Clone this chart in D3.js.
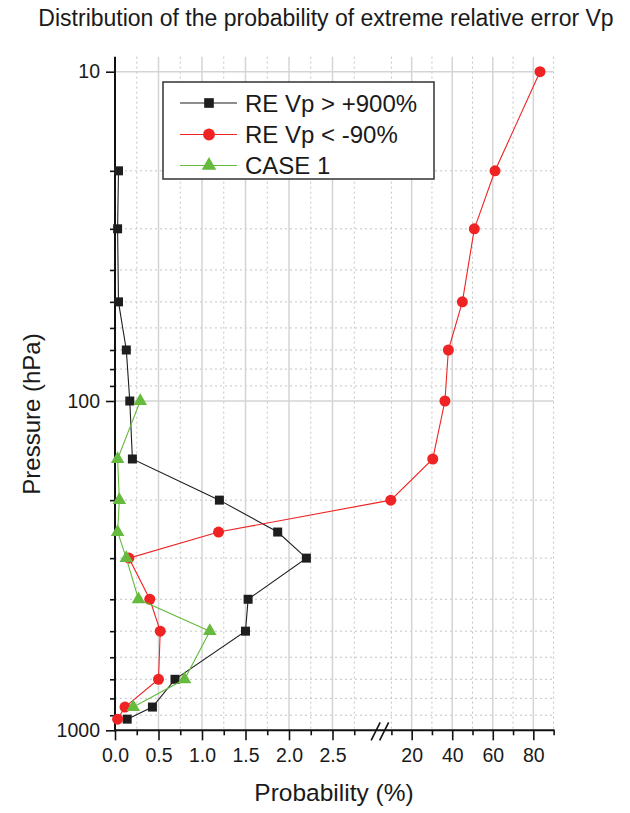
<!DOCTYPE html>
<html><head><meta charset="utf-8">
<script src="https://cdn.jsdelivr.net/npm/d3@7"></script>
<style>body{margin:0;background:#fff} svg{display:block;font-family:"Liberation Sans",Arial,sans-serif}</style>
</head><body><svg id="c" width="630" height="813"></svg>
<script>
const titleText = "Distribution of the probability of extreme relative error Vp";
const xLabel = "Probability (%)";
const yLabel = "Pressure (hPa)";
const seriesNames = ["RE Vp > +900%", "RE Vp < -90%", "CASE 1"];
const blackP = [20, 30, 50, 70, 100, 150, 200, 250, 300, 400, 500, 700, 850, 925];
const blackV = [0.04, 0.03, 0.04, 0.13, 0.17, 0.20, 1.20, 1.87, 2.20, 1.53, 1.50, 0.69, 0.43, 0.14];
const redP = [10, 20, 30, 50, 70, 100, 150, 200, 250, 300, 400, 500, 700, 850, 925];
const redV = [83.3, 61.1, 50.9, 45.0, 38.1, 36.4, 30.4, 9.7, 1.19, 0.16, 0.40, 0.52, 0.50, 0.115, 0.03];
const greenP = [100, 150, 200, 250, 300, 400, 500, 700, 850];
const greenV = [0.29, 0.03, 0.05, 0.03, 0.13, 0.27, 1.09, 0.80, 0.21];
const xLeftTicks = [0, 0.5, 1, 1.5, 2, 2.5];
const xLeftTickLabels = ["0.0", "0.5", "1.0", "1.5", "2.0", "2.5"];
const xLeftMinor = [0.25, 0.75, 1.25, 1.75, 2.25, 2.75];
const xRightTicks = [20, 40, 60, 80];
const xRightMinor = [10, 30, 50, 70, 90];
const yTicks = [10, 100, 1000];
const yMinor = [20, 30, 40, 50, 60, 70, 80, 90, 200, 300, 400, 500, 600, 700, 800, 900];

const svg = d3.select("#c");
const xL = d3.scaleLinear().domain([0, 3]).range([115, 376]);
const xR = d3.scaleLinear().domain([10, 90]).range([391.4, 553.6]);
const x = v => v <= 3 ? xL(v) : xR(v);
const y = d3.scaleLog().domain([10, 1000]).range([71.7, 730.3]);
const xMin = xL(0), xMax = xR(90), yTop = y(9), yBot = y(1000);

// grid
const g = svg.append("g");
const majorV = xLeftTicks.filter(d => d > 0).map(xL).concat(xRightTicks.map(xR));
const minorV = xLeftMinor.map(xL).concat(xRightMinor.map(xR));
g.selectAll(".gvm").data(minorV).join("line")
  .attr("x1", d => d).attr("x2", d => d).attr("y1", yTop).attr("y2", yBot)
  .attr("stroke", "#c4c4c4").attr("stroke-width", 1).attr("stroke-dasharray", "2,3");
g.selectAll(".ghm").data(yMinor).join("line")
  .attr("x1", xMin).attr("x2", xMax).attr("y1", d => y(d)).attr("y2", d => y(d))
  .attr("stroke", "#c4c4c4").attr("stroke-width", 1).attr("stroke-dasharray", "2,3");
g.selectAll(".gvM").data(majorV).join("line")
  .attr("x1", d => d).attr("x2", d => d).attr("y1", yTop).attr("y2", yBot)
  .attr("stroke", "#d4d4d4").attr("stroke-width", 1.5);
g.selectAll(".ghM").data([10, 100]).join("line")
  .attr("x1", xMin).attr("x2", xMax).attr("y1", d => y(d)).attr("y2", d => y(d))
  .attr("stroke", "#d4d4d4").attr("stroke-width", 1.5);

// axes
const ax = svg.append("g");
function styleAxis(sel) {
  sel.select(".domain").remove();
  sel.selectAll(".tick line").attr("stroke", "#111").attr("stroke-width", 1.6);
  sel.selectAll(".tick text").attr("fill", "#1a1a1a").style("font-size", "19.5px")
     .style("font-family", '"Liberation Sans", Arial, sans-serif');
}
ax.append("g").attr("transform", `translate(0,${yBot})`)
  .call(d3.axisBottom(xL).tickValues(xLeftTicks).tickFormat((d, i) => xLeftTickLabels[i]).tickSize(10).tickPadding(8))
  .call(styleAxis);
ax.append("g").attr("transform", `translate(0,${yBot})`)
  .call(d3.axisBottom(xL).tickValues(xLeftMinor).tickFormat("").tickSize(5))
  .call(styleAxis);
ax.append("g").attr("transform", `translate(0,${yBot})`)
  .call(d3.axisBottom(xR).tickValues(xRightTicks).tickFormat(d3.format("d")).tickSize(10).tickPadding(8))
  .call(styleAxis);
ax.append("g").attr("transform", `translate(0,${yBot})`)
  .call(d3.axisBottom(xR).tickValues(xRightMinor).tickFormat("").tickSize(5))
  .call(styleAxis);
ax.append("g").attr("transform", `translate(${xMin},0)`)
  .call(d3.axisLeft(y).tickValues(yTicks).tickFormat(d3.format("d")).tickSize(9).tickPadding(6))
  .call(styleAxis);
ax.append("g").attr("transform", `translate(${xMin},0)`)
  .call(d3.axisLeft(y).tickValues(yMinor).tickFormat("").tickSize(5))
  .call(styleAxis);
ax.append("line").attr("x1", xMin - 1).attr("x2", xMax + 1).attr("y1", yBot).attr("y2", yBot)
  .attr("stroke", "#111").attr("stroke-width", 2);
ax.append("line").attr("x1", xMin).attr("x2", xMin).attr("y1", yTop).attr("y2", yBot + 1)
  .attr("stroke", "#111").attr("stroke-width", 2);
// break marks
const bx = (xL(3) + xR(5)) / 2 + 2;
[-4.5, 4].forEach(o => {
  ax.append("line").attr("x1", bx + o - 5).attr("y1", yBot + 10).attr("x2", bx + o + 4).attr("y2", yBot - 8)
    .attr("stroke", "#111").attr("stroke-width", 1.6);
});

// data
const series = [
  {name: seriesNames[0], P: blackP, V: blackV, color: "#1e1e1e", marker: d3.symbolSquare, size: 81},
  {name: seriesNames[1], P: redP, V: redV, color: "#ef2323", marker: d3.symbolCircle, size: 95},
  {name: seriesNames[2], P: greenP, V: greenV, color: "#66bb3f", marker: d3.symbolTriangle, size: 80}
];
const lineGen = d3.line().x(d => x(d.v)).y(d => y(d.p));
const dg = svg.append("g");
series.forEach(s => {
  const pts = s.P.map((p, i) => ({p, v: s.V[i]}));
  dg.append("path").datum(pts).attr("d", lineGen).attr("fill", "none")
    .attr("stroke", s.color).attr("stroke-width", 1.1);
  dg.selectAll(null).data(pts).join("path")
    .attr("transform", d => `translate(${x(d.v)},${y(d.p)})`)
    .attr("d", d3.symbol(s.marker, s.size)).attr("fill", s.color);
});

// legend
const lg = svg.append("g");
lg.append("rect").attr("x", 163).attr("y", 82).attr("width", 271).attr("height", 97)
  .attr("fill", "#fff").attr("stroke", "#333").attr("stroke-width", 1.5);
const rowY = [103, 134.5, 165.5];
series.forEach((s, i) => {
  lg.append("line").attr("x1", 180).attr("x2", 237).attr("y1", rowY[i]).attr("y2", rowY[i])
    .attr("stroke", s.color).attr("stroke-width", 1.1);
  lg.append("path").attr("transform", `translate(209,${rowY[i]})`)
    .attr("d", d3.symbol(s.marker, s.size * 1.15)).attr("fill", s.color);
  lg.append("text").attr("x", 245).attr("y", rowY[i] + 8.5).text(s.name)
    .style("font-size", "24px").attr("fill", "#1a1a1a");
});

// titles
svg.append("text").attr("x", 326).attr("y", 26).attr("text-anchor", "middle")
  .style("font-size", "23px").attr("fill", "#1a1a1a").text(titleText);
svg.append("text").attr("x", 334).attr("y", 801).attr("text-anchor", "middle")
  .style("font-size", "24.5px").attr("fill", "#1a1a1a").text(xLabel);
svg.append("text").attr("transform", "translate(40,414) rotate(-90)").attr("text-anchor", "middle")
  .style("font-size", "24px").attr("fill", "#1a1a1a").text(yLabel);
</script></body></html>
